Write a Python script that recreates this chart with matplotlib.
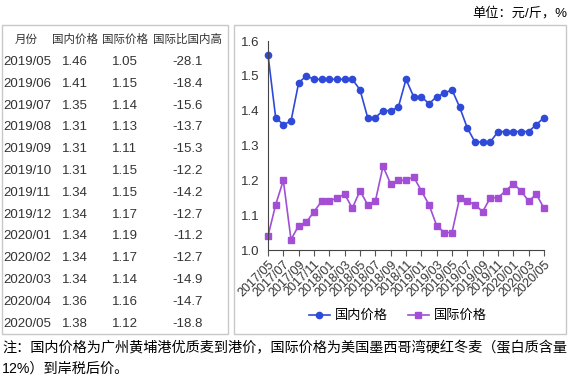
import matplotlib
matplotlib.use("Agg")
import matplotlib.pyplot as plt
from matplotlib.patches import Rectangle

plt.rcParams["font.family"] = ["Liberation Sans", "Noto Sans CJK SC", "DejaVu Sans"]
plt.rcParams["axes.unicode_minus"] = False

# monthly series 2017/05 .. 2020/05
months = [f"{y}/{m:02d}" for y in range(2017, 2021) for m in range(1, 13)]
months = months[months.index("2017/05"):months.index("2020/05") + 1]
domestic = [1.56, 1.38, 1.36, 1.37, 1.48, 1.50, 1.49, 1.49, 1.49, 1.49,
            1.49, 1.49, 1.46, 1.38, 1.38, 1.40, 1.40, 1.41, 1.49, 1.44,
            1.44, 1.42, 1.44, 1.45, 1.46, 1.41, 1.35, 1.31, 1.31, 1.31,
            1.34, 1.34, 1.34, 1.34, 1.34, 1.36, 1.38]
intl = [1.04, 1.13, 1.20, 1.03, 1.07, 1.08, 1.11, 1.14, 1.14, 1.15,
        1.16, 1.12, 1.17, 1.13, 1.14, 1.24, 1.19, 1.20, 1.20, 1.21,
        1.17, 1.13, 1.07, 1.05, 1.05, 1.15, 1.14, 1.13, 1.11, 1.15,
        1.15, 1.17, 1.19, 1.17, 1.14, 1.16, 1.12]

# table (last 13 months)
tbl_header = ["月份", "国内价格", "国际价格", "国际比国内高"]
tbl_months = ["2019/05", "2019/06", "2019/07", "2019/08", "2019/09", "2019/10",
              "2019/11", "2019/12", "2020/01", "2020/02", "2020/03", "2020/04",
              "2020/05"]
tbl_dom = ["1.46", "1.41", "1.35", "1.31", "1.31", "1.31", "1.34", "1.34",
           "1.34", "1.34", "1.34", "1.36", "1.38"]
tbl_int = ["1.05", "1.15", "1.14", "1.13", "1.11", "1.15", "1.15", "1.17",
           "1.19", "1.17", "1.14", "1.16", "1.12"]
tbl_gap = ["-28.1", "-18.4", "-15.6", "-13.7", "-15.3", "-12.2", "-14.2",
           "-12.7", "-11.2", "-12.7", "-14.9", "-14.7", "-18.8"]

W, H = 576, 380
BLUE = "#2f4ad8"
PURPLE = "#a24fd6"
TXT = "#333333"

fig = plt.figure(figsize=(W / 100, H / 100), dpi=100)


def fx(px):
    return px / W


def fy(py):
    return 1 - py / H


# frames
for x0, x1 in [(2, 228), (234, 566)]:
    fig.patches.append(Rectangle((fx(x0), fy(334)), fx(x1 - x0), (334 - 25) / H,
                                 transform=fig.transFigure, fill=False,
                                 edgecolor="#c8c8c8", lw=1))

# table text
col_x = [26, 75, 125, 188]
for cx, h in zip(col_x, tbl_header):
    fig.text(fx(cx), fy(40), h, ha="center", va="center", fontsize=8.3, color=TXT)
for i in range(len(tbl_months)):
    yy = fy(62 + i * 21.8)
    fig.text(fx(3), yy, tbl_months[i], ha="left", va="center", fontsize=9.5, color=TXT)
    fig.text(fx(75), yy, tbl_dom[i], ha="center", va="center", fontsize=9.5, color=TXT)
    fig.text(fx(125), yy, tbl_int[i], ha="center", va="center", fontsize=9.5, color=TXT)
    fig.text(fx(188), yy, tbl_gap[i], ha="center", va="center", fontsize=9.5, color=TXT)

# line chart
ax = fig.add_axes([fx(268), fy(250), fx(544 - 268), (250 - 41) / H])
x = list(range(len(months)))
ax.plot(x, domestic, color=BLUE, lw=1.2, marker="o", ms=4.5, label="国内价格",
        clip_on=False)
ax.plot(x, intl, color=PURPLE, lw=1.2, marker="s", ms=4, label="国际价格",
        clip_on=False)
ax.set_xlim(0, len(months) - 1)
ax.set_ylim(1.0, 1.6)
ax.set_yticks([1.0, 1.1, 1.2, 1.3, 1.4, 1.5, 1.6])
ax.tick_params(axis="y", length=0, labelsize=9.5, colors=TXT, pad=6)
ax.set_xticks(x[::2])
ax.set_xticklabels(months[::2], rotation=45, ha="right", rotation_mode="anchor",
                   fontsize=9, color=TXT)
ax.tick_params(axis="x", length=4, color="#555555", pad=2)
for s in ["top", "right"]:
    ax.spines[s].set_visible(False)
for s in ["left", "bottom"]:
    ax.spines[s].set_color("#444444")
ax.legend(loc="center", bbox_to_anchor=(fx(398), fy(316)),
          bbox_transform=fig.transFigure, ncol=2, frameon=False, fontsize=9.5,
          handlelength=1.6, columnspacing=1.5, handletextpad=0.4)

# unit and note
fig.text(fx(567), fy(13), "单位：元/斤，%", ha="right", va="center", fontsize=9.5,
         color="black")
fig.text(fx(2), fy(348), "注：国内价格为广州黄埔港优质麦到港价，国际价格为美国墨西哥湾硬红冬麦（蛋白质含量",
         ha="left", va="center", fontsize=10.2, color="black")
fig.text(fx(2), fy(369), "12%）到岸税后价。", ha="left", va="center",
         fontsize=10.2, color="black")

fig.savefig("out.png", dpi=100)
